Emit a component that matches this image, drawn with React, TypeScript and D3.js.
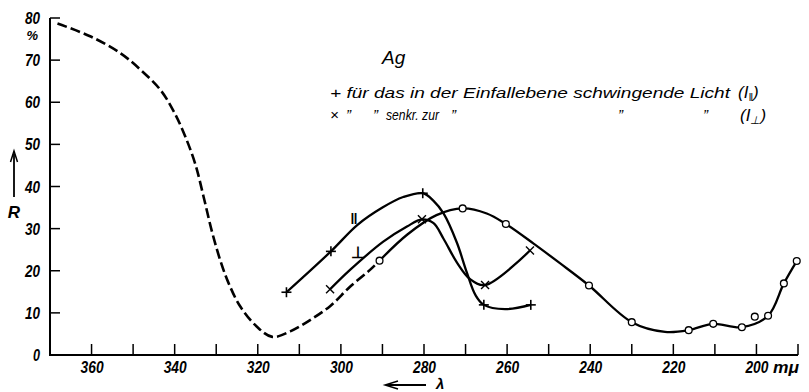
import React from "react";
import * as d3 from "d3";

// ---- data ----
// dashed literature curve (lambda in mµ, R in %)
const dashedLambda = [368.2, 360.2, 353, 348.2, 343.4, 340.2, 337.5, 335, 333, 331, 329, 327, 324.2, 320.2, 316.5, 312.2, 307.4, 302.6, 297.8, 293, 290.7];
const dashedR = [78.7, 75.6, 71.6, 67.7, 62.9, 57.8, 52, 45.2, 37.4, 29.2, 22.4, 17, 11.5, 6.7, 4.3, 5.6, 8.3, 11.6, 16.2, 20.2, 22.4];

// open circles (measured points, natural light)
const circleLambda = [290.7, 270.7, 260.3, 240.3, 230, 216.3, 210.4, 203.5, 200.4, 197.2, 193.4, 190.3];
const circleR = [22.4, 34.8, 31.1, 16.5, 7.8, 5.9, 7.4, 6.6, 9.1, 9.3, 17, 22.3];
// traced solid curve through the circle series
const circleCurveLambda = [290.7, 284, 277, 270.7, 264.9, 260.3, 253.7, 247.3, 240.3, 230, 222, 216.3, 210.4, 203.5, 197.2, 193.4, 190.3];
const circleCurveR = [22.4, 28.6, 33.2, 34.8, 33.6, 31.1, 26.5, 21.8, 16.5, 7.8, 5.5, 5.9, 7.4, 6.6, 9.3, 17, 22.3];

// + parallel polarisation
const parLambda = [313.1, 302.4, 280.3, 265.6, 254.3];
const parR = [14.9, 24.6, 38.4, 11.9, 11.9];
const parCurveLambda = [313.1, 302.4, 296, 290, 285, 280.3, 277.7, 275.3, 272.1, 269.7, 267.6, 265.6, 260.5, 254.3];
const parCurveR = [14.9, 24.6, 30.9, 35, 37.5, 38.4, 36.6, 33.6, 26.7, 19.6, 14.2, 11.9, 10.9, 11.9];

// x perpendicular polarisation
const perpLambda = [302.6, 280.5, 265.3, 254.5];
const perpR = [15.6, 32.2, 16.6, 24.8];
const perpCurveLambda = [302.6, 297.8, 289.8, 284.1, 280.5, 277.7, 275.3, 272.1, 268.9, 265.3, 254.5];
const perpCurveR = [15.6, 20.2, 26.9, 30.5, 32.2, 31.3, 27.6, 22, 18, 16.6, 24.8];

const xTickMarks = [360, 350, 340, 330, 320, 310, 300, 290, 280, 270, 260, 250, 240, 230, 220, 210, 200, 190];
const xTickLabels = [360, 340, 320, 300, 280, 260, 240, 220, 200];
const yTickMarks = [10, 20, 30, 40, 50, 60, 70, 80];
const yTickLabels = [0, 10, 20, 30, 40, 50, 60, 70, 80];

const FONT = "'Liberation Sans', Arial, sans-serif";

export default function App() {
  const x = d3.scaleLinear().domain([370, 190]).range([50, 798]);
  const y = d3.scaleLinear().domain([0, 80]).range([355, 18]);

  const line = d3
    .line<[number, number]>()
    .x((d) => x(d[0]))
    .y((d) => y(d[1]))
    .curve(d3.curveCatmullRom.alpha(0.5));

  const zip = (a: number[], b: number[]) => a.map((v, i) => [v, b[i]] as [number, number]);

  const dashedPath = line(zip(dashedLambda, dashedR)) || "";
  const circlePath = line(zip(circleCurveLambda, circleCurveR)) || "";
  const parPath = line(zip(parCurveLambda, parCurveR)) || "";
  const perpPath = line(zip(perpCurveLambda, perpCurveR)) || "";

  const x0 = x(370);
  const y0 = y(0);

  return (
    <svg
      width={809}
      height={392}
      viewBox="0 0 809 392"
      style={{ position: "absolute", left: 0, top: 0, background: "#fff" }}
    >
      <rect x={0} y={0} width={809} height={392} fill="#fff" />
      {/* axes */}
      <line x1={x0} y1={y(80)} x2={x0} y2={y0 + 1} stroke="#000" strokeWidth={2} />
      <line x1={x0 - 1} y1={y0} x2={x(190)} y2={y0} stroke="#000" strokeWidth={2} />
      {yTickMarks.map((t) => (
        <line key={"yt" + t} x1={x0} x2={x0 + 10} y1={y(t)} y2={y(t)} stroke="#000" strokeWidth={1.5} />
      ))}
      {xTickMarks.map((t) => (
        <line key={"xt" + t} x1={x(t)} x2={x(t)} y1={y0} y2={y0 - 11} stroke="#000" strokeWidth={1.5} />
      ))}
      {/* y labels */}
      {yTickLabels.map((t) => (
        <text
          key={"yl" + t}
          x={40}
          y={y(t) + 6}
          textAnchor="end"
          fontFamily={FONT}
          fontStyle="italic"
          fontWeight="bold"
          fontSize={16}
          textLength={t === 0 ? 7 : 15}
          lengthAdjust="spacingAndGlyphs"
        >
          {t}
        </text>
      ))}
      <text x={38} y={40} textAnchor="end" fontFamily={FONT} fontStyle="italic" fontWeight="bold" fontSize={13}>
        %
      </text>
      {/* x labels */}
      {xTickLabels.map((t) => (
        <text
          key={"xl" + t}
          x={x(t) - 11}
          y={373}
          fontFamily={FONT}
          fontStyle="italic"
          fontWeight="bold"
          fontSize={16}
          textLength={23}
          lengthAdjust="spacingAndGlyphs"
        >
          {t}
        </text>
      ))}
      <text x={773} y={373} fontFamily={FONT} fontStyle="italic" fontWeight="bold" fontSize={17} textLength={26} lengthAdjust="spacingAndGlyphs">
        mμ
      </text>
      {/* R arrow */}
      <line x1={14} y1={197} x2={14} y2={154} stroke="#000" strokeWidth={1.8} />
      <path d="M10.5,162 L14,151 L17.5,162" fill="none" stroke="#000" strokeWidth={1.5} />
      <text x={14} y={218} textAnchor="middle" fontFamily={FONT} fontStyle="italic" fontWeight="bold" fontSize={17}>
        R
      </text>
      {/* lambda arrow */}
      <line x1={386} y1={385} x2={426} y2={385} stroke="#000" strokeWidth={1.8} />
      <path d="M398,381 L385,385 L398,389" fill="none" stroke="#000" strokeWidth={1.4} />
      <text x={436} y={389} fontFamily={FONT} fontStyle="italic" fontWeight="bold" fontSize={15}>
        λ
      </text>

      {/* curves */}
      <path d={dashedPath} fill="none" stroke="#000" strokeWidth={2.6} strokeDasharray="10,4" />
      <path d={circlePath} fill="none" stroke="#000" strokeWidth={2.3} />
      <path d={parPath} fill="none" stroke="#000" strokeWidth={2.3} />
      <path d={perpPath} fill="none" stroke="#000" strokeWidth={2.3} />

      {/* markers */}
      {circleLambda.map((l, i) => (
        <circle key={"c" + i} cx={x(l)} cy={y(circleR[i])} r={3.4} fill="#fff" stroke="#000" strokeWidth={1.3} />
      ))}
      {parLambda.map((l, i) => {
        const cx = x(l);
        const cy = y(parR[i]);
        return (
          <g key={"p" + i} stroke="#000" strokeWidth={1.6}>
            <line x1={cx - 5} x2={cx + 5} y1={cy} y2={cy} />
            <line x1={cx} x2={cx} y1={cy - 5} y2={cy + 5} />
          </g>
        );
      })}
      {perpLambda.map((l, i) => {
        const cx = x(l);
        const cy = y(perpR[i]);
        return (
          <g key={"s" + i} stroke="#000" strokeWidth={1.4}>
            <line x1={cx - 4} x2={cx + 4} y1={cy - 4} y2={cy + 4} />
            <line x1={cx - 4} x2={cx + 4} y1={cy + 4} y2={cy - 4} />
          </g>
        );
      })}

      {/* curve labels */}
      <text x={354} y={224} textAnchor="middle" fontFamily={FONT} fontWeight="bold" fontSize={15}>
        ‖
      </text>
      <text x={357.5} y={257.5} textAnchor="middle" fontFamily={FONT} fontWeight="bold" fontSize={16}>
        ⊥
      </text>

      {/* legend */}
      <text x={382} y={64} fontFamily={FONT} fontStyle="italic" fontSize={19}>
        Ag
      </text>
      <text x={330} y={98} fontFamily={FONT} fontStyle="italic" fontSize={15} textLength={400} lengthAdjust="spacingAndGlyphs">
        + für das in der Einfallebene schwingende Licht
      </text>
      <text x={738} y={98} fontFamily={FONT} fontStyle="italic" fontSize={17}>
        (I<tspan fontSize={11} dy={3}>‖</tspan>
        <tspan dy={-3}>)</tspan>
      </text>
      <g fontFamily={FONT} fontStyle="italic" fontSize={15}>
        <text x={330} y={120}>×</text>
        <text x={346} y={120}>”</text>
        <text x={373} y={120}>”</text>
        <text x={386} y={120} fontSize={14} textLength={53} lengthAdjust="spacingAndGlyphs">senkr. zur</text>
        <text x={451} y={120}>”</text>
        <text x={618} y={120}>”</text>
        <text x={703} y={120}>”</text>
      </g>
      <text x={740} y={121} fontFamily={FONT} fontStyle="italic" fontSize={17}>
        (I<tspan fontSize={11} dy={3}>⊥</tspan>
        <tspan dy={-3}>)</tspan>
      </text>
    </svg>
  );
}
